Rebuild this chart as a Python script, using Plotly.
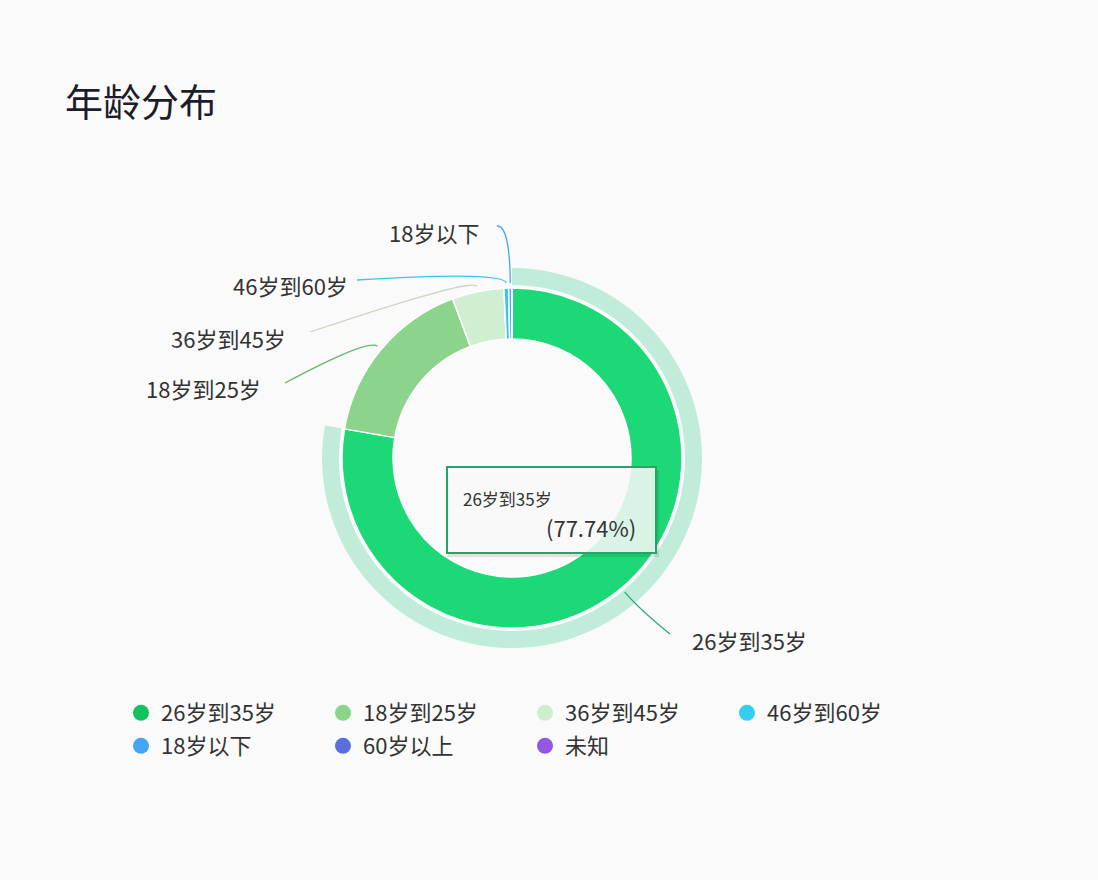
import math
import plotly.graph_objects as go

# 数据
categories = ["26岁到35岁", "18岁到25岁", "36岁到45岁", "46岁到60岁", "18岁以下", "60岁以上", "未知"]
shares = [77.74, 16.58, 4.92, 0.45, 0.31, 0.0, 0.0]
slice_colors = ["#1dd876", "#8cd48b", "#d0eed2", "#38c6ef", "#4aa6ef", "#5a6fdc", "#9358e0"]
legend_colors = ["#12c25c", "#8ad58a", "#cdefd0", "#36cdf2", "#42a5f5", "#5a6fdc", "#9358e0"]
highlight = 0  # 悬停的扇区

W, H = 1098, 880
CX, CY = 512, 458          # 圆心 (像素)
R_OUT, HOLE = 170, 0.70
RING_IN, RING_OUT = 173, 190
FONT = "Noto Sans CJK SC"
BG = "#fafafa"
PER_ROW = 4

# 标签布局: (引线第一段长度, 引线终点, 文字位置, 对齐)
label_layout = {
    "26岁到35岁": (22, (670, 634), (690, 640), "left"),
    "18岁到25岁": (12, (285, 383), (263, 388), "right"),
    "36岁到45岁": (10, (310, 332), (288, 338), "right"),
    "46岁到60岁": (12, (357, 280), (350, 285), "right"),
    "18岁以下": (58, (497, 226), (481, 232), "right"),
}


def dom(r):
    return dict(x=[(CX - r) / W, (CX + r) / W], y=[(H - CY - r) / H, (H - CY + r) / H])


fig = go.Figure()

# 高亮外环
ring_cols = [("#c2ecda" if i == highlight else "rgba(0,0,0,0)") for i in range(len(shares))]
fig.add_trace(go.Pie(labels=categories, values=shares, sort=False, direction="clockwise", rotation=0,
                     hole=RING_IN / RING_OUT, domain=dom(RING_OUT), textinfo="none", hoverinfo="skip",
                     marker=dict(colors=ring_cols, line=dict(width=0)), showlegend=False))

# 主环
fig.add_trace(go.Pie(labels=categories, values=shares, sort=False, direction="clockwise", rotation=0,
                     hole=HOLE, domain=dom(R_OUT), textinfo="none", hoverinfo="skip",
                     marker=dict(colors=slice_colors, line=dict(color="white", width=1.5)),
                     showlegend=False))

# 图例 (圆点), 每行一个 legend
for i, (name, c) in enumerate(zip(categories, legend_colors)):
    lg = "legend" if i < PER_ROW else "legend2"
    fig.add_trace(go.Scatter(x=[None], y=[None], mode="markers", name=name, legend=lg,
                             marker=dict(size=20, color=c), hoverinfo="skip"))

# 引线和外部标签
total = sum(shares)
cum = 0
shapes, annos = [], []
for name, v, c in zip(categories, shares, slice_colors):
    mid = (cum + v / 2) / total * 2 * math.pi
    cum += v
    if name not in label_layout:
        continue
    len1, end, tpos, align = label_layout[name]
    dx, dy = math.sin(mid), -math.cos(mid)
    sx, sy = CX + (R_OUT + 5) * dx, CY + (R_OUT + 5) * dy
    ex, ey = CX + (R_OUT + 5 + len1) * dx, CY + (R_OUT + 5 + len1) * dy
    lc = "#2aa57c" if name == categories[0] else ("#c8d6c4" if name == "36岁到45岁" else c)
    if name == "18岁到25岁":
        lc = "#62b866"
    shapes.append(dict(type="path", xref="x", yref="y", layer="above",
                       path=f"M {sx:.1f},{sy:.1f} Q {ex:.1f},{ey:.1f} {end[0]},{end[1]}",
                       line=dict(color=lc, width=1.3)))
    annos.append(dict(x=tpos[0], y=tpos[1], xref="x", yref="y", text=name, showarrow=False,
                      xanchor=align, yanchor="middle", font=dict(family=FONT, size=22, color="#333333")))

# 提示框
bx0, by0, bx1, by1 = 447, 467, 656, 553
shapes.append(dict(type="rect", xref="x", yref="y", layer="above", x0=bx0 + 1, y0=by0 + 3, x1=bx1 + 3, y1=by1 + 4,
                   fillcolor="rgba(0,0,0,0.10)", line=dict(width=0)))
shapes.append(dict(type="rect", xref="x", yref="y", layer="above", x0=bx0, y0=by0, x1=bx1, y1=by1,
                   fillcolor="rgba(252,253,252,0.85)", line=dict(color="#22a866", width=2)))
annos.append(dict(x=461, y=498, xref="x", yref="y", text=categories[highlight], showarrow=False,
                  xanchor="left", yanchor="middle", font=dict(family=FONT, size=17, color="#333333")))
annos.append(dict(x=638, y=527, xref="x", yref="y", text=f"({shares[highlight]:.2f}%)", showarrow=False,
                  xanchor="right", yanchor="middle", font=dict(family=FONT, size=22, color="#333333")))

# 标题
annos.append(dict(x=63, y=99, xref="x", yref="y", text="年龄分布", showarrow=False,
                  xanchor="left", yanchor="middle", font=dict(family=FONT, size=38, color="#1c1c2a")))

legend_style = dict(orientation="h", xanchor="left", yanchor="top", entrywidth=157, entrywidthmode="pixels",
                    bgcolor="rgba(0,0,0,0)", font=dict(family=FONT, size=22, color="#333333"),
                    itemsizing="trace")

fig.update_layout(
    width=W, height=H, margin=dict(l=0, r=0, t=0, b=0),
    paper_bgcolor=BG, plot_bgcolor="rgba(0,0,0,0)",
    xaxis=dict(range=[0, W], visible=False, fixedrange=True),
    yaxis=dict(range=[H, 0], visible=False, fixedrange=True),
    shapes=shapes, annotations=annos,
    legend=dict(x=121 / W, y=1 - 692 / H, **legend_style),
    legend2=dict(x=121 / W, y=1 - 725 / H, **legend_style),
)

fig.write_html("out.html", config={"displayModeBar": False},
               post_script=f"document.body.style.margin='0px';document.body.style.background='{BG}';")
